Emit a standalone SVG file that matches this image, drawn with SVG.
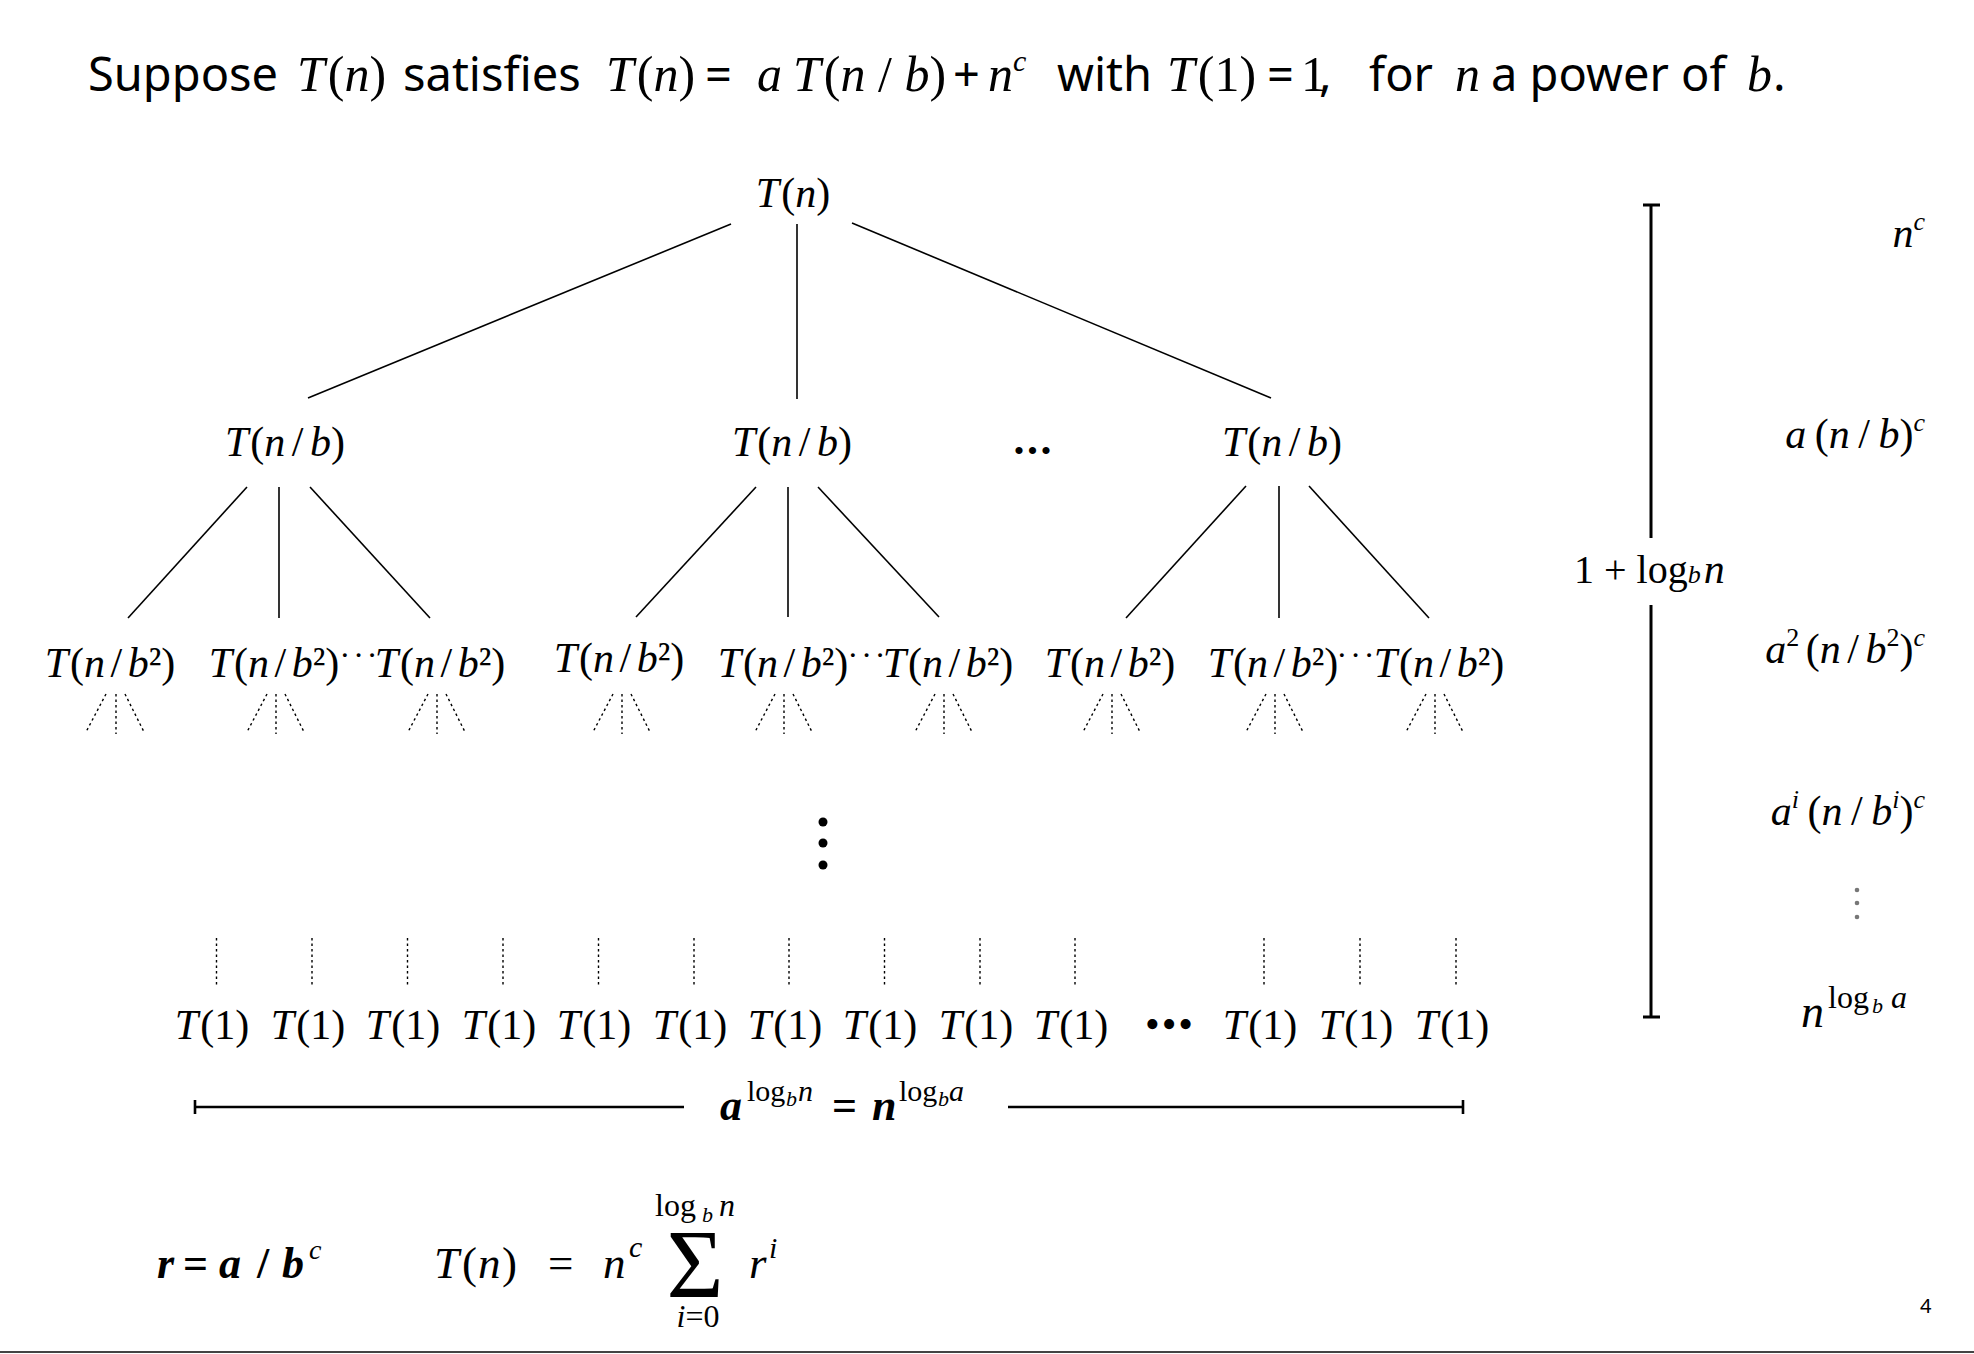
<svg xmlns="http://www.w3.org/2000/svg" width="1974" height="1354" viewBox="0 0 1974 1354">
<style>
.sans{font-family:"Noto Sans","DejaVu Sans",sans-serif;font-size:47px;fill:#000}
.ser{font-family:"Liberation Serif","Times New Roman",serif;fill:#000}
.it{font-style:italic}
.t50{font-size:50px}
.lbl{font-family:"Liberation Serif","Times New Roman",serif;font-style:italic;font-size:42px;text-anchor:middle;fill:#000}
.up{font-style:normal}
.ln{stroke:#000;stroke-width:1.6;fill:none}
.dot{stroke:#000;stroke-width:1.4;stroke-dasharray:2.5 3;fill:none}
.bar{stroke:#000;stroke-width:3;fill:none}
.brk{stroke:#000;stroke-width:2.6;fill:none}
</style>
<rect x="0" y="0" width="1974" height="1354" fill="#fff"/>
<g id="title">
<text class="sans" x="88" y="91">Suppose</text>
<text class="ser t50" x="297" y="91"><tspan class="it">T</tspan><tspan dx="3">(</tspan><tspan class="it">n</tspan>)</text>
<text class="sans" x="403" y="91">satisfies</text>
<text class="ser t50" x="606" y="91"><tspan class="it">T</tspan><tspan dx="3">(</tspan><tspan class="it">n</tspan>)</text>
<text class="sans" x="705" y="91">=</text>
<text class="ser t50 it" x="757" y="91">a</text>
<text class="ser t50" x="793" y="91"><tspan class="it">T</tspan><tspan dx="3">(</tspan><tspan class="it">n</tspan> / <tspan class="it">b</tspan>)</text>
<text class="sans" x="953" y="91">+</text>
<text class="ser t50" x="988" y="91"><tspan class="it">n</tspan><tspan class="it" font-size="30" dy="-20">c</tspan></text>
<text class="sans" x="1057" y="91">with</text>
<text class="ser t50" x="1167" y="91"><tspan class="it">T</tspan><tspan dx="3">(1)</tspan></text>
<text class="sans" x="1267" y="91">=</text>
<text class="ser t50" x="1301" y="91">1</text>
<text class="sans" x="1319" y="91">,</text>
<text class="sans" x="1369" y="91">for</text>
<text class="ser t50 it" x="1455" y="91">n</text>
<text class="sans" x="1491" y="91">a power of</text>
<text class="ser t50 it" x="1747" y="91">b</text>
<text class="sans" x="1773" y="91">.</text>
</g>
<g id="connectors">
<line class="ln" x1="731" y1="224" x2="308" y2="398"/>
<line class="ln" x1="797" y1="224" x2="797" y2="399"/>
<line class="ln" x1="852" y1="223" x2="1271" y2="398"/>
<line class="ln" x1="247" y1="487" x2="128" y2="618"/>
<line class="ln" x1="279" y1="487" x2="279" y2="618"/>
<line class="ln" x1="310" y1="487" x2="430" y2="618"/>
<line class="ln" x1="756" y1="487" x2="636" y2="617"/>
<line class="ln" x1="788" y1="487" x2="788" y2="617"/>
<line class="ln" x1="818" y1="487" x2="939" y2="617"/>
<line class="ln" x1="1246" y1="486" x2="1126" y2="618"/>
<line class="ln" x1="1279" y1="486" x2="1279" y2="618"/>
<line class="ln" x1="1309" y1="486" x2="1429" y2="618"/>
<g id="fans">
<path class="dot" d="M106 694L86 732M116 694V734M125 694L144 732"/>
<path class="dot" d="M267 694L247 732M276 694V734M285 694L304 732"/>
<path class="dot" d="M428 694L408 732M437 694V734M446 694L465 732"/>
<path class="dot" d="M613 694L593 732M622 694V734M631 694L650 732"/>
<path class="dot" d="M775 694L755 732M784 694V734M793 694L812 732"/>
<path class="dot" d="M935 694L915 732M944 694V734M953 694L972 732"/>
<path class="dot" d="M1103 694L1083 732M1112 694V734M1121 694L1140 732"/>
<path class="dot" d="M1266 694L1246 732M1275 694V734M1284 694L1303 732"/>
<path class="dot" d="M1426 694L1406 732M1435 694V734M1444 694L1463 732"/>
</g>
<path class="dot" d="M216.5 938V987M312 938V987M407.5 938V987M503 938V987M598.5 938V987M694 938V987M789 938V987M884.5 938V987M980 938V987M1075 938V987M1264 938V987M1360 938V987M1456 938V987"/>
<g id="height-bar">
<path class="bar" d="M1651 205V538M1651 605V1017M1643 205H1660M1643 1017H1660"/>
</g>
<g id="width-bar">
<path class="brk" d="M195 1107H684M1008 1107H1463M195 1100V1114M1463 1100V1114"/>
</g>
</g>
<g id="root"><text class="lbl" x="793" y="207">T<tspan class="up" dx="2">(</tspan>n<tspan class="up">)</tspan></text></g>
<g id="level1">
<text class="lbl" x="285" y="456" word-spacing="-4">T<tspan class="up" dx="2">(</tspan>n<tspan class="up"> / </tspan>b<tspan class="up">)</tspan></text>
<text class="lbl" x="792" y="456" word-spacing="-4">T<tspan class="up" dx="2">(</tspan>n<tspan class="up"> / </tspan>b<tspan class="up">)</tspan></text>
<text class="lbl" x="1282" y="456" word-spacing="-4">T<tspan class="up" dx="2">(</tspan>n<tspan class="up"> / </tspan>b<tspan class="up">)</tspan></text>
<text class="ser" x="1034" y="461" font-size="30" text-anchor="middle" letter-spacing="3">•••</text>
</g>
<g id="level2">
<text class="lbl" x="110" y="677" word-spacing="-5">T<tspan class="up" dx="2">(</tspan>n<tspan class="up"> / </tspan>b<tspan class="up">²)</tspan></text>
<text class="lbl" x="274" y="677" word-spacing="-5">T<tspan class="up" dx="2">(</tspan>n<tspan class="up"> / </tspan>b<tspan class="up">²)</tspan></text>
<text class="lbl" x="440" y="677" word-spacing="-5">T<tspan class="up" dx="2">(</tspan>n<tspan class="up"> / </tspan>b<tspan class="up">²)</tspan></text>
<text class="lbl" x="619" y="672" word-spacing="-5">T<tspan class="up" dx="2">(</tspan>n<tspan class="up"> / </tspan>b<tspan class="up">²)</tspan></text>
<text class="lbl" x="783" y="677" word-spacing="-5">T<tspan class="up" dx="2">(</tspan>n<tspan class="up"> / </tspan>b<tspan class="up">²)</tspan></text>
<text class="lbl" x="948" y="677" word-spacing="-5">T<tspan class="up" dx="2">(</tspan>n<tspan class="up"> / </tspan>b<tspan class="up">²)</tspan></text>
<text class="lbl" x="1110" y="677" word-spacing="-5">T<tspan class="up" dx="2">(</tspan>n<tspan class="up"> / </tspan>b<tspan class="up">²)</tspan></text>
<text class="lbl" x="1273" y="677" word-spacing="-5">T<tspan class="up" dx="2">(</tspan>n<tspan class="up"> / </tspan>b<tspan class="up">²)</tspan></text>
<text class="lbl" x="1439" y="677" word-spacing="-5">T<tspan class="up" dx="2">(</tspan>n<tspan class="up"> / </tspan>b<tspan class="up">²)</tspan></text>
<text class="ser" x="360" y="666" font-size="32" text-anchor="middle" letter-spacing="3">···</text>
<text class="ser" x="868" y="666" font-size="32" text-anchor="middle" letter-spacing="3">···</text>
<text class="ser" x="1357" y="666" font-size="32" text-anchor="middle" letter-spacing="3">···</text>
</g>
<g id="vdots">
<circle cx="823" cy="822" r="4.5"/>
<circle cx="823" cy="843" r="4.5"/>
<circle cx="823" cy="865" r="4.5"/>
</g>
<g id="leaves">
<text class="lbl" x="212" y="1039">T<tspan class="up" dx="2">(1)</tspan></text>
<text class="lbl" x="308" y="1039">T<tspan class="up" dx="2">(1)</tspan></text>
<text class="lbl" x="403" y="1039">T<tspan class="up" dx="2">(1)</tspan></text>
<text class="lbl" x="499" y="1039">T<tspan class="up" dx="2">(1)</tspan></text>
<text class="lbl" x="594" y="1039">T<tspan class="up" dx="2">(1)</tspan></text>
<text class="lbl" x="690" y="1039">T<tspan class="up" dx="2">(1)</tspan></text>
<text class="lbl" x="785" y="1039">T<tspan class="up" dx="2">(1)</tspan></text>
<text class="lbl" x="880" y="1039">T<tspan class="up" dx="2">(1)</tspan></text>
<text class="lbl" x="976" y="1039">T<tspan class="up" dx="2">(1)</tspan></text>
<text class="lbl" x="1071" y="1039">T<tspan class="up" dx="2">(1)</tspan></text>
<text class="ser" x="1170" y="1038" font-size="42" text-anchor="middle" letter-spacing="2">•••</text>
<text class="lbl" x="1260" y="1039">T<tspan class="up" dx="2">(1)</tspan></text>
<text class="lbl" x="1356" y="1039">T<tspan class="up" dx="2">(1)</tspan></text>
<text class="lbl" x="1452" y="1039">T<tspan class="up" dx="2">(1)</tspan></text>
</g>
<g id="leaf-count">
<text class="ser" y="1120" font-size="44"><tspan x="720" class="it" font-weight="bold">a</tspan><tspan x="747" y="1101" font-size="30">log</tspan><tspan x="786" y="1106" class="it" font-size="22">b</tspan><tspan x="798" y="1101" class="it" font-size="30">n</tspan><tspan x="832" y="1120" font-weight="bold">=</tspan><tspan x="872" y="1120" class="it" font-weight="bold">n</tspan><tspan x="899" y="1101" font-size="30">log</tspan><tspan x="938" y="1106" class="it" font-size="22">b</tspan><tspan x="949" y="1101" class="it" font-size="30">a</tspan></text>
</g>
<g id="height-label">
<text class="ser" x="1574" y="583" font-size="40">1 + log<tspan class="it" font-size="26">b</tspan><tspan class="it" font-size="42" dx="3">n</tspan></text>
</g>
<g id="level-costs">
<text class="ser it" x="1925" y="247" font-size="42" text-anchor="end">n<tspan font-size="26" dy="-17">c</tspan></text>
<text class="ser it" x="1925" y="448" font-size="42" text-anchor="end" word-spacing="-2">a <tspan class="up">(</tspan>n<tspan class="up"> / </tspan>b<tspan class="up">)</tspan><tspan font-size="26" dy="-17">c</tspan></text>
<text class="ser it" x="1925" y="663" font-size="42" text-anchor="end" word-spacing="-4">a<tspan class="up" font-size="26" dy="-17">2</tspan><tspan class="up" dy="17"> (</tspan>n<tspan class="up"> / </tspan>b<tspan class="up" font-size="26" dy="-17">2</tspan><tspan class="up" dy="17">)</tspan><tspan font-size="26" dy="-17">c</tspan></text>
<text class="ser it" x="1925" y="825" font-size="42" text-anchor="end" word-spacing="-2">a<tspan font-size="26" dy="-17">i</tspan><tspan class="up" dy="17"> (</tspan>n<tspan class="up"> / </tspan>b<tspan font-size="26" dy="-17">i</tspan><tspan class="up" dy="17">)</tspan><tspan font-size="26" dy="-17">c</tspan></text>
<circle cx="1857" cy="890" r="2.3" fill="#777"/>
<circle cx="1857" cy="903" r="2.3" fill="#777"/>
<circle cx="1857" cy="917" r="2.3" fill="#777"/>
<text class="ser it" y="1027" font-size="46"><tspan x="1801">n</tspan><tspan x="1828" y="1008" class="up" font-size="32">log</tspan><tspan x="1872" y="1013" font-size="22">b</tspan><tspan x="1891" y="1008" font-size="32">a</tspan></text>
</g>
<g id="formulas">
<text class="ser it" y="1278" font-size="44" font-weight="bold"><tspan x="157">r</tspan><tspan x="183" class="up">=</tspan><tspan x="219">a</tspan><tspan x="257" class="up">/</tspan><tspan x="282">b</tspan><tspan x="309" y="1259" font-size="28" font-weight="normal">c</tspan></text>
<text class="ser" y="1278" font-size="45"><tspan x="434" class="it">T</tspan><tspan x="462">(</tspan><tspan x="478" class="it">n</tspan><tspan x="502">)</tspan></text>
<text class="ser" x="548" y="1278" font-size="45">=</text>
<text class="ser it" y="1278" font-size="45"><tspan x="603">n</tspan><tspan x="629" y="1257" font-size="30">c</tspan></text>
<text class="ser" x="695" y="1297" font-size="98" text-anchor="middle">Σ</text>
<text class="ser" y="1216" font-size="32"><tspan x="655">log</tspan><tspan x="702" y="1222" class="it" font-size="22">b</tspan><tspan x="719" y="1216" class="it">n</tspan></text>
<text class="ser it" x="698" y="1327" font-size="32" text-anchor="middle">i<tspan class="up">=0</tspan></text>
<text class="ser it" y="1278" font-size="45"><tspan x="749">r</tspan><tspan x="769" y="1258" font-size="30">i</tspan></text>
</g>
<text class="sans" x="1920" y="1313" style="font-size:20px">4</text>
<line x1="0" y1="1352" x2="1974" y2="1352" stroke="#444" stroke-width="2"/>
</svg>
